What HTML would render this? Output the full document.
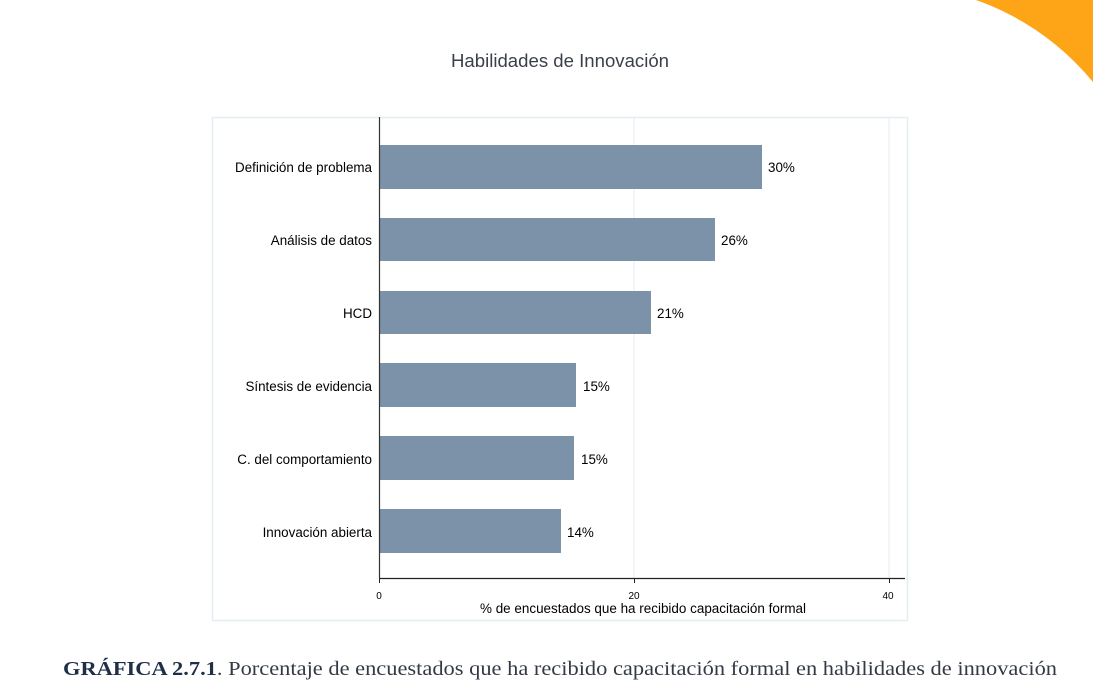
<!DOCTYPE html>
<html><head><meta charset="utf-8"><style>
body{margin:0;width:1093px;height:697px;background:#fff;overflow:hidden;position:relative;font-family:"Liberation Sans",Arial,sans-serif}
</style></head><body>
<svg width="1093" height="697" style="position:absolute;left:0;top:0">
<rect x="960" y="0" width="133" height="100" fill="#fda516"/>
<circle cx="888" cy="250" r="265" fill="#fff"/>
<rect x="0" y="100" width="1093" height="597" fill="#fff"/>
<rect x="0" y="0" width="960" height="100" fill="#fff"/>
<text x="451" y="67" textLength="218" lengthAdjust="spacingAndGlyphs" font-size="18" fill="#3a3f4a">Habilidades de Innovación</text>
<rect x="212.5" y="117.5" width="695" height="503" fill="#fff" stroke="#e3eef0" stroke-width="1.5"/>
<line x1="634" y1="118" x2="634" y2="578" stroke="#e6eef0"/>
<line x1="889" y1="118" x2="889" y2="578" stroke="#e6eef0"/>
<g fill="#7b92a9">
<rect x="380" y="145" width="382" height="44"/>
<rect x="380" y="218" width="335" height="43"/>
<rect x="380" y="291" width="271" height="43"/>
<rect x="380" y="363" width="196" height="44"/>
<rect x="380" y="436" width="194" height="44"/>
<rect x="380" y="509" width="181" height="44"/>
</g>
<line x1="379.5" y1="117" x2="379.5" y2="578" stroke="#333" stroke-width="1.2"/>
<line x1="379" y1="578.5" x2="905" y2="578.5" stroke="#222" stroke-width="1.2"/>
<g stroke="#222"><line x1="379.5" y1="578" x2="379.5" y2="583"/><line x1="634.5" y1="578" x2="634.5" y2="583"/><line x1="889.5" y1="578" x2="889.5" y2="583"/></g>
<g font-size="13.4" fill="#000" text-anchor="end">
<text x="372" y="172">Definición de problema</text>
<text x="372" y="245">Análisis de datos</text>
<text x="372" y="318">HCD</text>
<text x="372" y="391">Síntesis de evidencia</text>
<text x="372" y="464">C. del comportamiento</text>
<text x="372" y="537">Innovación abierta</text>
</g>
<g font-size="13.4" fill="#000">
<text x="768" y="172">30%</text>
<text x="721" y="245">26%</text>
<text x="657" y="318">21%</text>
<text x="583" y="391">15%</text>
<text x="581" y="464">15%</text>
<text x="567" y="537">14%</text>
</g>
<g font-size="10" fill="#000" text-anchor="middle">
<text x="379" y="599">0</text><text x="634" y="599">20</text><text x="888" y="599">40</text>
</g>
<text x="480" y="613" textLength="326" lengthAdjust="spacingAndGlyphs" font-size="13.4" fill="#000">% de encuestados que ha recibido capacitación formal</text>
<text x="63" y="675" textLength="994" lengthAdjust="spacingAndGlyphs" font-size="20" fill="#333a44" font-family="Liberation Serif, serif"><tspan font-weight="bold" fill="#1f2f45">GRÁFICA 2.7.1</tspan>. Porcentaje de encuestados que ha recibido capacitación formal en habilidades de innovación</text>
</svg>
</body></html>
